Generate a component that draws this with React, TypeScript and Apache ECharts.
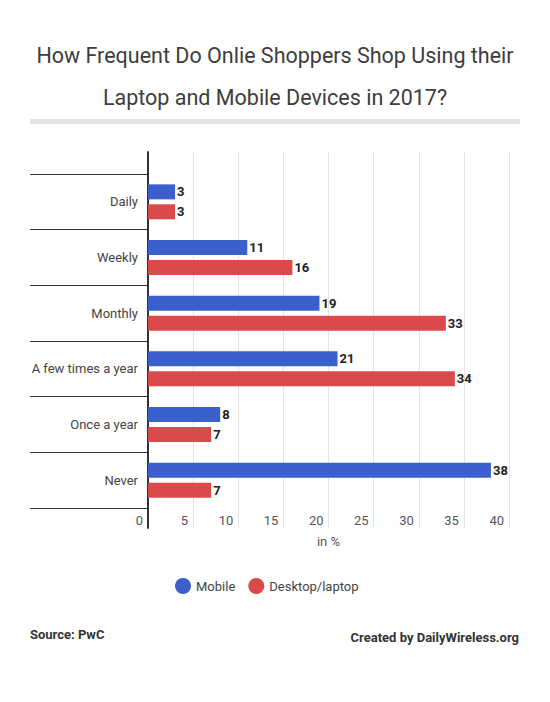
import React, { useEffect, useRef } from "react";
import * as echarts from "echarts";

const categories = ["Daily", "Weekly", "Monthly", "A few times a year", "Once a year", "Never"];
const mobile = [3, 11, 19, 21, 8, 38];
const desktop = [3, 16, 33, 34, 7, 7];
const seriesNames = ["Mobile", "Desktop/laptop"];
const titleText = "How Frequent Do Onlie Shoppers Shop Using their\nLaptop and Mobile Devices in 2017?";
const xAxisName = "in %";
const sourceText = "Source: PwC";
const creditText = "Created by DailyWireless.org";

const FONT = "Roboto, 'Noto Sans', sans-serif";

export default function App() {
  const ref = useRef<HTMLDivElement>(null);
  useEffect(() => {
    if (!ref.current) return;
    const chart = echarts.init(ref.current, null, { renderer: "svg" });
    const labelStyle = {
      show: true,
      position: "right" as const,
      distance: 2,
      fontFamily: FONT,
      fontSize: 13,
      fontWeight: "bold" as const,
      color: "#222",
    };
    chart.setOption({
      animation: false,
      backgroundColor: "#ffffff",
      textStyle: { fontFamily: FONT },
      title: {
        text: titleText,
        left: "center",
        top: 34,
        padding: 0,
        textStyle: {
          fontFamily: FONT,
          fontSize: 21.5,
          fontWeight: "normal",
          color: "#3d3d3d",
          lineHeight: 42,
        },
      },
      legend: {
        data: seriesNames,
        left: 170,
        top: 573,
        icon: "circle",
        itemWidth: 16,
        itemHeight: 16,
        itemGap: 13,
        textStyle: { fontFamily: FONT, fontSize: 13, color: "#444" },
      },
      grid: [
        { left: 148, right: 41, top: 152, bottom: 174 },
        { left: 148, right: 41, top: 174, bottom: 194 },
      ],
      xAxis: [
        {
          gridIndex: 0,
          type: "value",
          min: 0,
          max: 40,
          interval: 5,
          axisLine: { show: false },
          axisTick: { show: false },
          axisLabel: { show: false },
          splitLine: { show: true, lineStyle: { color: "#e4e4e4", width: 1 } },
        },
        {
          gridIndex: 1,
          type: "value",
          min: 0,
          max: 40,
          interval: 5,
          axisLine: { show: false },
          axisTick: { show: false },
          splitLine: { show: false },
          axisLabel: {
            fontFamily: FONT,
            fontSize: 13,
            color: "#555",
            align: "right",
            padding: [0, 5, 0, 0],
            margin: 6,
          },
          name: xAxisName,
          nameLocation: "middle",
          nameGap: 27,
          nameTextStyle: { fontFamily: FONT, fontSize: 13, color: "#555" },
        },
      ],
      yAxis: [
        {
          gridIndex: 0,
          type: "value",
          min: 0,
          max: 1,
          axisLine: { show: true, lineStyle: { color: "#333", width: 2 } },
          axisTick: { show: false },
          axisLabel: { show: false },
          splitLine: { show: false },
        },
        {
          gridIndex: 1,
          type: "category",
          inverse: true,
          data: categories,
          axisLine: { show: false },
          axisTick: { show: true, length: 118, lineStyle: { color: "#333", width: 1 } },
          axisLabel: { fontFamily: FONT, fontSize: 13, color: "#444", margin: 10 },
          splitLine: { show: false },
        },
      ],
      series: [
        {
          name: seriesNames[0],
          type: "bar",
          xAxisIndex: 1,
          yAxisIndex: 1,
          data: mobile,
          barWidth: 15,
          barGap: "33%",
          itemStyle: { color: "#3b60cc" },
          label: labelStyle,
        },
        {
          name: seriesNames[1],
          type: "bar",
          xAxisIndex: 1,
          yAxisIndex: 1,
          data: desktop,
          barWidth: 15,
          barGap: "33%",
          itemStyle: { color: "#da4a4d" },
          label: labelStyle,
        },
      ],
      graphic: [
        {
          type: "rect",
          shape: { x: 30, y: 119, width: 490, height: 5 },
          style: { fill: "#e3e3e3" },
        },
        {
          type: "text",
          x: 30,
          y: 634,
          style: {
            text: sourceText,
            fontFamily: FONT,
            fontSize: 13,
            fontWeight: "bold",
            fill: "#333",
            textAlign: "left",
            textVerticalAlign: "middle",
          },
        },
        {
          type: "text",
          x: 519,
          y: 637,
          style: {
            text: creditText,
            fontFamily: FONT,
            fontSize: 13,
            fontWeight: "bold",
            fill: "#333",
            textAlign: "right",
            textVerticalAlign: "middle",
          },
        },
      ],
    });
    return () => chart.dispose();
  }, []);
  return (
    <div
      ref={ref}
      style={{ position: "fixed", left: 0, top: 0, width: 550, height: 702 }}
    />
  );
}
